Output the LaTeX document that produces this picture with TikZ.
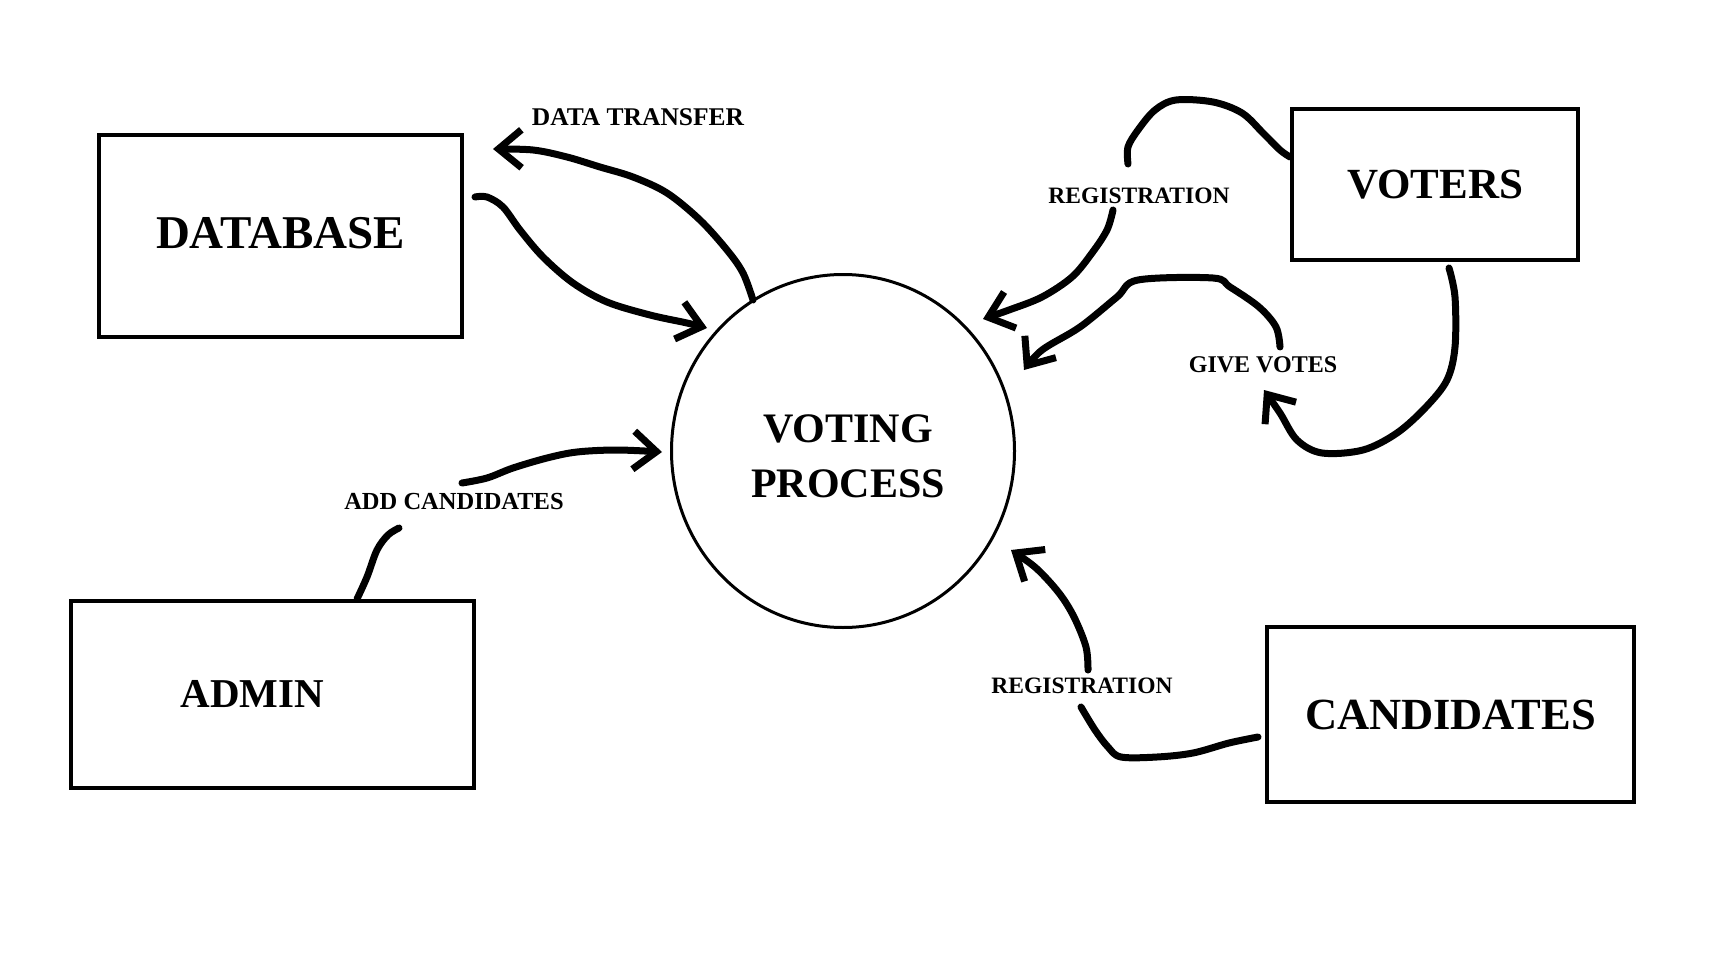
\documentclass[tikz,border=0pt]{standalone}
\usepackage{fontspec}
\setmainfont{Liberation Serif}
\usetikzlibrary{arrows.meta,shapes.geometric}
\newcommand{\fsz}[1]{\fontsize{#1}{#1}\bfseries\selectfont}
\begin{document}
\begin{tikzpicture}[x=1pt,y=-1pt,
  box/.style={draw,line width=4pt,inner sep=0pt},
  proc/.style={draw,ellipse,line width=3pt,inner sep=0pt},
  lbl/.style={inner sep=0pt},
  flow/.style={line width=7pt,line cap=round,line join=round},
  arr/.style={flow,-{Straight Barb[length=23pt,width=38pt]}}]
\fill[white] (0,0) rectangle (1732,960);
\useasboundingbox (0,0) rectangle (1732,960);

% entities
\node[box,minimum width=363pt,minimum height=202pt,font=\fsz{47}] (db) at (280.5,236) {\raisebox{6pt}{DATABASE}};
\node[box,minimum width=286pt,minimum height=151pt,font=\fsz{43}] (vot) at (1435,184.5) {\raisebox{-4pt}{VOTERS}};
\node[box,minimum width=403pt,minimum height=187pt,font=\fsz{41}] (adm) at (272.5,694.5) {ADMIN\hspace*{40pt}};
\node[box,minimum width=367pt,minimum height=175pt,font=\fsz{44.5}] (cand) at (1450.5,714.5) {CANDIDATES};
\node[proc,minimum width=343pt,minimum height=353pt] (vp) at (843,451) {};
\node[align=center,inner sep=0pt,font=\fontsize{42}{55}\bfseries\selectfont] (vpt) at (848,456) {VOTING\\PROCESS};

% labels
\node[lbl,font=\fsz{25.5}] (ldt) at (638,117) {DATA TRANSFER};
\node[lbl,font=\fsz{23.5}] (lrv) at (1139,196) {REGISTRATION};
\node[lbl,font=\fsz{24}] (lgv) at (1263,365) {GIVE VOTES};
\node[lbl,font=\fsz{24.5}] (lac) at (454,502) {ADD CANDIDATES};
\node[lbl,font=\fsz{23.5}] (lrc) at (1082,686) {REGISTRATION};

% connector ends
\coordinate (s1) at (475,197);   \coordinate (e1) at (707,328);
\coordinate (s2) at (753,300);   \coordinate (e2) at (493,149);
\coordinate (s3) at (vot.west |- 0,157); \coordinate (m3) at (1128,164);
\coordinate (n3) at (1113,210);  \coordinate (e3) at (983,319);
\coordinate (s4) at (1449,268);  \coordinate (e4) at (1264,390);
\coordinate (n4) at (1280,347);  \coordinate (f4) at (1024,370);
\coordinate (s5) at (adm.north -| 357,0); \coordinate (m5) at (399,528);
\coordinate (n5) at (462,483);   \coordinate (e5) at (662,452);
\coordinate (s6) at (1258,737);  \coordinate (m6) at (1081,707);
\coordinate (n6) at (1088,670);  \coordinate (e6) at (1011,550);

% database -> voting process
\draw[arr] plot[smooth,tension=0.55] coordinates {(s1) (487,197) (503,207) (520,230) (543,257) (573,283) (607,302) (650,315) (687,323) (e1)};
% voting process -> database (data transfer)
\draw[arr] plot[smooth,tension=0.55] coordinates {(s2) (743,273) (727,250) (700,220) (667,193) (633,177) (600,167) (567,157) (533,150) (e2)};
% voters -> registration -> voting process
\draw[flow] plot[smooth,tension=0.55] coordinates {(s3) (1280,150) (1263,133) (1242,113) (1213,102) (1176,100) (1155,110) (1138,130) (1128,147) (m3)};
\draw[arr] plot[smooth,tension=0.55] coordinates {(n3) (1107,230) (1092,253) (1072,277) (1042,297) (1009,310) (e3)};
% voters -> give votes -> voting process
\draw[arr] plot[smooth,tension=0.55] coordinates {(s4) (1455,297) (1455,347) (1447,380) (1426,407) (1397,433) (1363,450) (1322,453) (1297,440) (1280,413) (e4)};
\draw[arr] plot[smooth,tension=0.55] coordinates {(n4) (1276,327) (1259,307) (1230,287) (1213,278) (1138,280) (1117,297) (1080,327) (1042,350) (f4)};
% admin -> add candidates -> voting process
\draw[flow] plot[smooth,tension=0.55] coordinates {(s5) (367,577) (377,550) (388,535) (m5)};
\draw[arr] plot[smooth,tension=0.55] coordinates {(n5) (487,478) (513,468) (547,458) (577,452) (617,450) (e5)};
% candidates -> registration -> voting process
\draw[flow] plot[smooth,tension=0.55] coordinates {(s6) (1229,743) (1193,753) (1157,757) (1121,757) (1108,747) (1095,730) (m6)};
\draw[arr] plot[smooth,tension=0.55] coordinates {(n6) (1086,647) (1074,617) (1059,593) (1036,568) (e6)};
\end{tikzpicture}
\end{document}
